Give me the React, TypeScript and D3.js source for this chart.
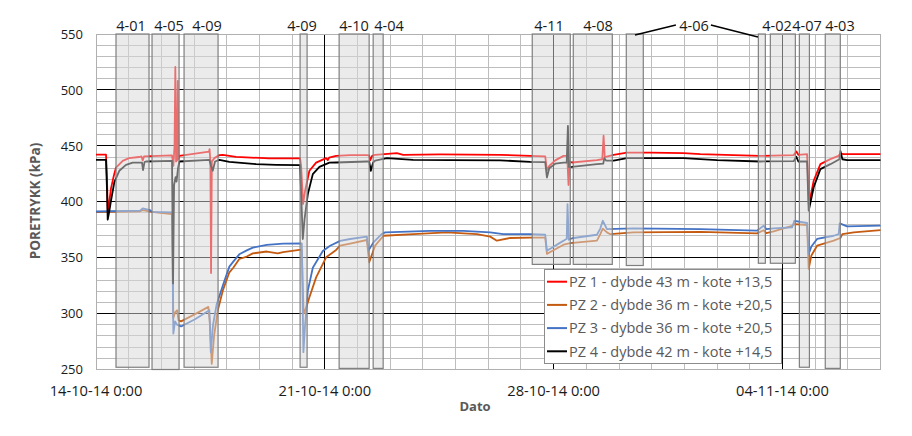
import React from "react";
import * as d3 from "d3";

// ---------- data ----------
const seriesNames = [
  "PZ 1 - dybde 43 m - kote +13,5",
  "PZ 2 - dybde 36 m - kote +20,5",
  "PZ 3 - dybde 36 m - kote +20,5",
  "PZ 4 - dybde 42 m - kote +14,5",
];
const seriesColors = ["#ff0000", "#c55a11", "#4472c4", "#000000"];

// [days since 14-10-14 0:00, poretrykk kPa]
const pz1: [number, number][] = [
  [0, 442.2], [0.306, 442.2], [0.337, 420], [0.358, 392], [0.398, 398], [0.459, 412], [0.551, 424],
  [0.612, 430.6], [0.817, 436.6], [1.01, 439], [1.316, 440], [1.393, 440.5], [1.429, 437], [1.469, 440.5],
  [2.326, 441.5], [2.366, 432], [2.403, 450], [2.427, 520.5], [2.449, 436], [2.479, 437], [2.501, 508],
  [2.526, 438], [2.55, 441], [3.459, 444.9], [3.474, 447], [3.499, 436], [3.52, 336.3], [3.544, 436],
  [3.621, 439], [3.774, 441.7], [3.878, 442], [4.285, 440.2], [5.305, 438.7], [6.244, 438.7], [6.275, 432],
  [6.336, 398], [6.397, 410], [6.529, 427.7], [6.734, 435], [7.04, 439], [7.092, 437.2], [7.132, 439.5],
  [7.346, 441], [7.775, 441.7], [8.286, 441.7], [8.356, 441.5], [8.387, 437], [8.448, 441], [8.54, 442],
  [9.204, 443.5], [9.397, 442], [10.529, 442.3], [12.366, 442], [13.284, 441], [13.743, 440.5],
  [13.795, 428], [13.866, 432], [14.049, 437], [14.303, 441], [14.416, 441], [14.456, 415], [14.492, 436],
  [14.56, 435.1], [15.325, 437.2], [15.488, 438], [15.528, 459], [15.564, 440], [15.834, 442],
  [16.244, 444], [16.957, 444], [17.977, 443.5], [18.488, 442.6], [19.507, 441.7], [20.324, 441],
  [21.343, 441.7], [21.426, 444.9], [21.487, 442], [21.754, 442.6], [21.785, 420], [21.803, 397.9],
  [21.855, 403.9], [21.956, 418.8], [22.161, 433.6], [22.467, 438.1], [22.712, 441], [22.773, 443.1],
  [22.874, 442.6], [24.0, 442.6],
];

const pz2: [number, number][] = [
  [0, 390.8], [1.347, 391.5], [1.429, 392.5], [1.714, 391], [1.959, 390], [2.326, 389], [2.366, 296],
  [2.418, 301], [2.479, 303], [2.526, 294], [2.602, 293], [3.03, 299.5], [3.437, 306], [3.489, 290],
  [3.541, 255], [3.612, 280], [3.725, 302.7], [3.878, 320.5], [4.08, 336.9], [4.2, 341], [4.384, 348.8],
  [4.613, 351], [4.797, 353.8], [5.225, 355.5], [5.561, 353.8], [5.724, 355], [6.223, 356.9],
  [6.296, 357], [6.351, 300], [6.428, 305], [6.529, 314.6], [6.734, 332.4], [7.04, 350.3],
  [7.346, 356.9], [7.469, 360.7], [7.775, 362.5], [8.286, 365.8], [8.356, 345.8], [8.54, 360.7],
  [8.795, 369.6], [9.703, 371], [10.734, 372.6], [11.652, 371], [12.06, 368.8], [12.265, 365.2],
  [12.672, 367.6], [13.284, 368], [13.743, 368], [13.795, 353.3], [13.896, 355], [14.303, 361.6],
  [14.507, 363], [15.325, 365.2], [15.427, 371], [15.504, 376], [15.631, 372.6], [15.733, 371],
  [16.445, 372.6], [18.488, 373], [20.223, 371.7], [20.425, 374.5], [20.508, 372], [20.732, 373.5],
  [21.295, 378.5], [21.365, 380], [21.754, 379.2], [21.803, 340], [21.886, 352], [22.06, 360.7],
  [22.568, 365.2], [22.773, 367.6], [22.834, 371], [23.182, 372.6], [24.0, 374.7],
];

const pz3: [number, number][] = [
  [0, 391.3], [1.347, 392], [1.429, 394], [1.653, 392.5], [1.714, 391], [2.326, 390.5], [2.366, 282],
  [2.418, 293], [2.479, 290], [2.602, 288.5], [3.03, 295], [3.468, 303], [3.511, 265.5], [3.581, 290],
  [3.694, 308.6], [3.896, 326.5], [4.08, 342], [4.2, 346.5], [4.384, 353], [4.613, 356.5], [4.797, 359],
  [5.225, 361.5], [5.724, 362.5], [6.296, 362.8], [6.345, 265.5], [6.397, 290], [6.48, 320.5],
  [6.633, 341], [6.939, 356], [7.162, 360.7], [7.469, 365], [7.775, 366.7], [8.286, 368.8],
  [8.335, 356.3], [8.488, 363.7], [8.745, 371.2], [8.846, 372.6], [10.224, 374], [11.233, 374],
  [12.06, 372.6], [12.458, 371], [13.284, 371], [13.743, 370.5], [13.795, 356.3], [13.896, 358],
  [14.294, 365], [14.401, 367], [14.425, 397.9], [14.462, 366], [14.507, 366.7], [14.609, 367.6],
  [15.325, 370.5], [15.427, 376], [15.504, 383], [15.631, 375.6], [16.445, 376.2], [18.488, 375.6],
  [20.223, 374.1], [20.425, 378.6], [20.508, 375.5], [20.732, 376.2], [21.295, 377], [21.365, 383],
  [21.754, 381], [21.803, 353.3], [21.886, 360], [22.06, 366.7], [22.568, 369.6], [22.721, 371],
  [22.752, 380.7], [22.978, 378], [24.0, 378.6],
];

const pz4: [number, number][] = [
  [0, 437.5], [0.306, 437.5], [0.337, 410], [0.358, 384], [0.398, 390], [0.459, 401], [0.56, 417.3],
  [0.713, 427.7], [0.918, 433], [1.123, 435], [1.408, 435], [1.439, 428.3], [1.485, 435.5], [1.53, 436],
  [2.326, 436.6], [2.357, 327], [2.388, 415], [2.434, 422], [2.464, 418], [2.51, 430], [2.55, 436],
  [3.468, 437.5], [3.52, 432], [3.572, 427.7], [3.642, 436], [3.774, 437.5], [4.08, 435.7],
  [4.897, 433.6], [5.51, 433], [6.244, 432.7], [6.327, 366.7], [6.382, 385], [6.48, 406.8],
  [6.633, 424.7], [6.835, 431.2], [7.141, 435], [7.346, 435.1], [8.286, 436], [8.356, 436],
  [8.408, 427.7], [8.478, 435], [8.54, 436.7], [8.898, 439], [9.703, 437.5], [10.836, 437.2],
  [12.366, 437], [13.284, 435.7], [13.743, 435.5], [13.795, 421.7], [13.866, 430], [14.049, 434],
  [14.303, 435], [14.401, 435], [14.437, 467.9], [14.471, 431], [14.56, 431.2], [15.325, 433.6],
  [15.518, 434], [15.549, 439], [15.61, 436.7], [15.834, 436.7], [16.244, 439], [17.977, 439],
  [18.997, 437.2], [20.324, 436], [21.343, 436.3], [21.426, 440.2], [21.487, 436], [21.754, 436],
  [21.803, 392], [21.956, 413], [22.161, 429.2], [22.467, 433.6], [22.743, 438], [22.773, 445.5],
  [22.834, 438], [22.978, 437.2], [24.0, 437.2],
];

const seriesData = [pz1, pz2, pz3, pz4];

// work periods (shaded boxes): start day, end day, bottom kPa
const boxStarts = [0.612, 1.714, 2.694, 6.244, 7.438, 8.479, 13.346, 14.601, 16.223, 20.263, 20.63, 21.518, 22.31];
const boxEnds = [1.622, 2.541, 3.734, 6.458, 8.356, 8.785, 14.509, 15.795, 16.743, 20.477, 21.395, 21.825, 22.77];
const boxBottoms = [252, 250, 252, 252, 251, 251, 344, 344, 343, 345, 345, 252, 251];

// box labels: text + anchor day
const labelTexts = ["4-01", "4-05", "4-09", "4-09", "4-10", "4-04", "4-11", "4-08", "4-06", "4-02", "4-07", "4-03"];
const labelDays = [1.071, 2.233, 3.396, 6.302, 7.892, 8.963, 13.858, 15.357, 18.293, 20.832, 21.75, 22.759];
// leader lines for "4-06" : [day, kPa] pairs
const leaderLines: [number, number][][] = [
  [[16.49, 549.1], [17.74, 558]],
  [[18.81, 558], [20.25, 547.3]],
];

const yTicks = [250, 300, 350, 400, 450, 500, 550];
const xTickDays = [0, 7, 14, 21];

// ---------- layout ----------
const W = 912;
const H = 436;
const START = Date.UTC(2014, 9, 14);
const toDate = (d: number) => new Date(START + d * 864e5);

export default function App() {
  const x = d3.scaleUtc().domain([toDate(0), toDate(24)]).range([96, 880.5]);
  const y = d3.scaleLinear().domain([250, 550]).range([369.5, 34]);
  const [x0, x1] = x.range();
  const [yb, yt] = y.range();

  const line = d3
    .line<[number, number]>()
    .x((d) => x(toDate(d[0])))
    .y((d) => y(d[1]));

  const fmt = d3.utcFormat("%d-%m-%y %-H:%M");
  const days = d3.utcDay.range(toDate(1), toDate(24));
  const minorY = d3.range(260, 550, 10).filter((v) => v % 50 !== 0);
  const majorY = yTicks.filter((v) => v > 250 && v < 550);

  const font = "'Open Sans', 'DejaVu Sans', sans-serif";

  return (
    <svg
      width={W}
      height={H}
      style={{ position: "absolute", left: 0, top: 0, background: "#fff" }}
      fontFamily={font}
    >
      <rect x={0} y={0} width={W} height={H} fill="#fff" />
      <g shapeRendering="crispEdges">
        {minorY.map((v) => (
          <line key={"mh" + v} x1={x0} x2={x1} y1={y(v)} y2={y(v)} stroke="#bdbdbd" strokeWidth={1} />
        ))}
        {days.map((d, i) => {
          const dayIdx = Math.round((+d - START) / 864e5);
          const major = dayIdx % 7 === 0;
          return (
            <line
              key={"v" + i}
              x1={x(d)}
              x2={x(d)}
              y1={yt}
              y2={yb}
              stroke={major ? "#000" : "#bdbdbd"}
              strokeWidth={1}
            />
          );
        })}
        {majorY.map((v) => (
          <line key={"Mh" + v} x1={x0} x2={x1} y1={y(v)} y2={y(v)} stroke="#000" strokeWidth={1} />
        ))}
        <rect x={x0} y={yt} width={x1 - x0} height={yb - yt} fill="none" stroke="#b0b0b0" strokeWidth={1} />
      </g>

      {/* series */}
      {seriesData.map((s, i) => (
        <path
          key={"s" + i}
          d={line(s) || ""}
          fill="none"
          stroke={seriesColors[i]}
          strokeWidth={1.8}
          strokeLinejoin="round"
        />
      ))}

      {/* boxes */}
      {boxStarts.map((s, i) => (
        <rect
          key={"b" + i}
          x={x(toDate(s))}
          y={y(550)}
          width={x(toDate(boxEnds[i])) - x(toDate(s))}
          height={y(boxBottoms[i]) - y(550)}
          fill="#d8d8d8"
          fillOpacity={0.51}
          stroke="#7f7f7f"
          strokeWidth={1.2}
        />
      ))}

      {/* labels */}
      {labelTexts.map((t, i) => (
        <text key={"l" + i} x={x(toDate(labelDays[i]))} y={31} textAnchor="middle" fontSize={14.5} fill="#1a1a1a">
          {t}
        </text>
      ))}
      {leaderLines.map((pts, i) => (
        <line
          key={"ll" + i}
          x1={x(toDate(pts[0][0]))}
          y1={y(pts[0][1])}
          x2={x(toDate(pts[1][0]))}
          y2={y(pts[1][1])}
          stroke="#000"
          strokeWidth={1.5}
        />
      ))}

      {/* y tick labels */}
      {yTicks.map((v) => (
        <text key={"yt" + v} x={83} y={y(v)} dy="0.36em" textAnchor="end" fontSize={13} fill="#1a1a1a">
          {v}
        </text>
      ))}
      {/* x tick labels */}
      {xTickDays.map((d) => (
        <text key={"xt" + d} x={x(toDate(d))} y={396} textAnchor="middle" fontSize={14.7} fill="#1a1a1a">
          {fmt(toDate(d))}
        </text>
      ))}

      {/* axis titles */}
      <text x={475} y={411} textAnchor="middle" fontSize={13} fontWeight="bold" fill="#595959">
        Dato
      </text>
      <text
        transform="translate(40,201) rotate(-90)"
        textAnchor="middle"
        fontSize={13.5}
        fontWeight="bold"
        fill="#595959"
      >
        PORETRYKK (kPa)
      </text>

      {/* legend */}
      <rect x={544} y={269} width={237} height={94} fill="#fff" stroke="#8c8c8c" strokeWidth={1} shapeRendering="crispEdges" />
      {seriesNames.map((n, i) => {
        const cy = 281.7 + i * 23.2;
        return (
          <g key={"lg" + i}>
            <line x1={547} x2={567} y1={cy} y2={cy} stroke={seriesColors[i]} strokeWidth={2} />
            <text x={569} y={cy} dy="0.36em" fontSize={14.5} fill="#595959">
              {n}
            </text>
          </g>
        );
      })}
    </svg>
  );
}
